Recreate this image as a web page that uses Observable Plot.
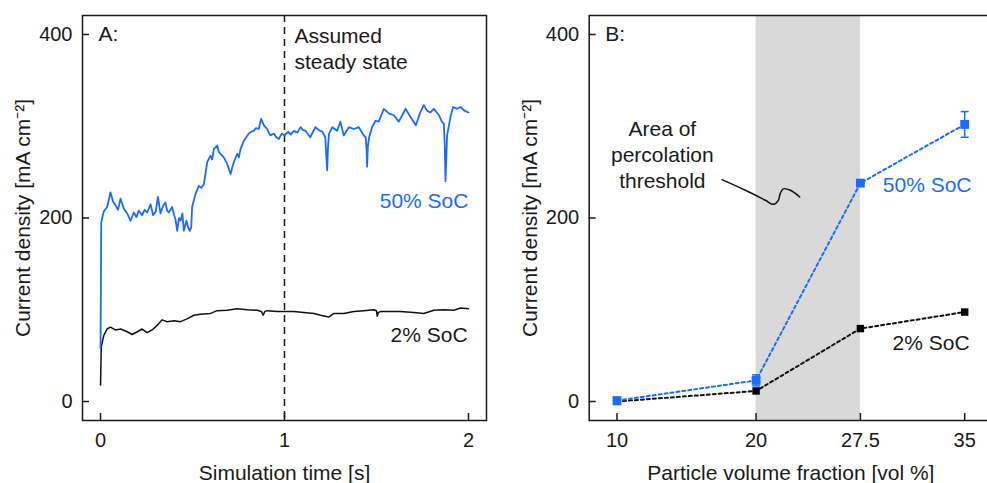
<!DOCTYPE html>
<html>
<head>
<meta charset="utf-8">
<script src="https://cdn.jsdelivr.net/npm/d3@7"></script>
<script src="https://cdn.jsdelivr.net/npm/@observablehq/plot@0.6"></script>
<style>
  html, body { margin: 0; padding: 0; background: #fff; }
  #wrap { position: relative; width: 987px; height: 483px; overflow: hidden; background: #fff; }
  #panelA { position: absolute; left: 0; top: 0; width: 495px; height: 483px; }
  #panelB { position: absolute; left: 490px; top: 0; width: 502px; height: 483px; }
  #wrap svg { max-width: none !important; display: block; }
</style>
</head>
<body>
<div id="wrap"><div id="panelA"></div><div id="panelB"></div></div>
<script>
// ---------- DATA ----------
// Panel A: current density vs simulation time, [time s, current mA cm^-2]
const soc50Trace = [
  [0, 58], [0.004, 195], [0.01, 201], [0.018, 207], [0.036, 212], [0.054, 228], [0.068, 218],
  [0.081, 214], [0.095, 209], [0.109, 221], [0.127, 210], [0.145, 205], [0.163, 197], [0.181, 206],
  [0.195, 201], [0.208, 208], [0.226, 203], [0.24, 209], [0.254, 206], [0.272, 215], [0.286, 203],
  [0.3, 207], [0.312, 223], [0.326, 205], [0.34, 213], [0.353, 217], [0.362, 208], [0.371, 206],
  [0.389, 212], [0.4, 203], [0.407, 199], [0.417, 186], [0.426, 200], [0.435, 197], [0.445, 205],
  [0.453, 186], [0.467, 197], [0.476, 190], [0.485, 186], [0.493, 190], [0.498, 212], [0.516, 226],
  [0.534, 235], [0.548, 233], [0.562, 237], [0.58, 261], [0.598, 268], [0.607, 264], [0.616, 275],
  [0.634, 279], [0.643, 272], [0.652, 270], [0.67, 266], [0.688, 259], [0.707, 248], [0.716, 255],
  [0.725, 261], [0.743, 270], [0.752, 266], [0.761, 275], [0.779, 284], [0.792, 288], [0.806, 292],
  [0.82, 294], [0.833, 295], [0.845, 298], [0.86, 297], [0.873, 308], [0.888, 301], [0.906, 297],
  [0.915, 293], [0.924, 290], [0.942, 292], [0.955, 288], [0.969, 286], [0.985, 292], [1.0, 290],
  [1.02, 294], [1.035, 291], [1.05, 295], [1.07, 293], [1.087, 299], [1.1, 296], [1.114, 295],
  [1.14, 288], [1.155, 294], [1.168, 299], [1.185, 296], [1.205, 294], [1.222, 288], [1.228, 265],
  [1.232, 252], [1.236, 275], [1.242, 292], [1.26, 299], [1.286, 295], [1.304, 305], [1.322, 290],
  [1.35, 299], [1.377, 297], [1.404, 299], [1.431, 290], [1.441, 288], [1.446, 275], [1.449, 256],
  [1.453, 278], [1.46, 288], [1.476, 299], [1.495, 306], [1.512, 305], [1.54, 319], [1.567, 314],
  [1.594, 312], [1.621, 305], [1.64, 312], [1.658, 319], [1.685, 310], [1.714, 301], [1.736, 314],
  [1.757, 323], [1.775, 317], [1.793, 315], [1.812, 319], [1.84, 312], [1.855, 305], [1.866, 303],
  [1.871, 280], [1.875, 240], [1.879, 262], [1.884, 290], [1.902, 310], [1.917, 321], [1.938, 319],
  [1.957, 321], [1.978, 317], [2.0, 315]
];
const soc2Trace = [
  [0, 18], [0.004, 60], [0.018, 72], [0.036, 79], [0.054, 81], [0.08, 78], [0.11, 79], [0.145, 76],
  [0.172, 73], [0.2, 76], [0.226, 79], [0.254, 75], [0.28, 78], [0.308, 83], [0.335, 89], [0.362, 87],
  [0.4, 88], [0.435, 87], [0.47, 90], [0.507, 94], [0.543, 95], [0.598, 96], [0.634, 99], [0.688, 99.5],
  [0.743, 101], [0.797, 100], [0.851, 99.5], [0.875, 98], [0.884, 94], [0.893, 98], [0.906, 99],
  [0.96, 98], [1.0, 98], [1.05, 98], [1.105, 97], [1.16, 96], [1.196, 94], [1.24, 92], [1.268, 96],
  [1.322, 96], [1.377, 98], [1.431, 99], [1.486, 100], [1.5, 99], [1.504, 93], [1.51, 97], [1.522, 98],
  [1.576, 98], [1.63, 98], [1.703, 97], [1.757, 96], [1.812, 99.5], [1.866, 100], [1.92, 99.5],
  [1.957, 102], [2.0, 101]
];
const steadyStateTime = 1;

// Panel B: current density vs particle volume fraction
const volumeFractions = [10, 20, 27.5, 35];
const soc50Current = [1, 23, 238, 302];
const soc50Error = [1, 6, 3, 14];
const soc2Current = [0, 11.5, 79.5, 97.5];
const percolationRange = [20, 27.5];

// Tick labels
const timeTicks = [0, 1, 2];
const currentTicks = [0, 200, 400];
const fractionTicks = [10, 20, 27.5, 35];

// Annotation pointer (data units of panel B)
const pointerPath = [
  [17.55, 241.8], [19.23, 230.2], [20.67, 219.3], [21.24, 214.9], [21.6, 219.3],
  [21.74, 226.9], [21.96, 231.8], [22.47, 230.2], [23.14, 222.9]
];

// ---------- STYLE ----------
const BLUE = "#1a6cff";
const INK = "#1a1a1a";
const FONT = "'Liberation Sans', Arial, Helvetica, sans-serif";
const yLabel = "Current density [mA cm⁻²]";

const H = 483, MT = 15, MB = 63;
const yDomain = [-20.7, 420.7];

// ---------- PANEL A ----------
const aW = 495, aML = 82, aMR = 9;
const aFrameW = aW - aML - aMR, frameH = H - MT - MB;

const plotA = Plot.plot({
  width: aW, height: H, marginLeft: aML, marginRight: aMR, marginTop: MT, marginBottom: MB,
  x: {domain: [-0.098, 2.098]},
  y: {domain: yDomain},
  style: {fontFamily: FONT, fontSize: "20px", color: INK, background: "transparent", overflow: "visible", maxWidth: "none"},
  marks: [
    Plot.axisX(timeTicks, {tickSize: 0, tickPadding: 12, label: null, tickFormat: d => String(d), fill: INK}),
    Plot.axisY(currentTicks, {tickSize: 0, tickPadding: 10, label: null, tickFormat: d => String(d), fill: INK}),
    Plot.tickX(timeTicks, {x: d => d, insetTop: frameH - 7, stroke: INK, strokeWidth: 1.5}),
    Plot.tickY(currentTicks, {y: d => d, insetRight: aFrameW - 7, stroke: INK, strokeWidth: 1.5}),
    Plot.ruleX([steadyStateTime], {stroke: INK, strokeWidth: 1.5, strokeDasharray: "7,5"}),
    Plot.line(soc2Trace, {x: d => d[0], y: d => d[1], stroke: "#111", strokeWidth: 1.5}),
    Plot.line(soc50Trace, {x: d => d[0], y: d => d[1], stroke: BLUE, strokeWidth: 1.8}),
    Plot.frame({stroke: INK, strokeWidth: 1.5}),
    Plot.text(["A:"], {x: -0.011, y: 400, text: d => d, textAnchor: "start", lineAnchor: "middle", fontSize: 21, fill: INK}),
    Plot.text(["Assumed\nsteady state"], {x: 1.054, y: 386, text: d => d, textAnchor: "start", lineAnchor: "middle", lineHeight: 1.25, fontSize: 21, fill: INK}),
    Plot.text(["50% SoC"], {x: 2.0, y: 218, text: d => d, textAnchor: "end", lineAnchor: "middle", fontSize: 21, fill: BLUE}),
    Plot.text(["2% SoC"], {x: 1.995, y: 72, text: d => d, textAnchor: "end", lineAnchor: "middle", fontSize: 21, fill: INK}),
    Plot.text([yLabel], {frameAnchor: "left", dx: -59, rotate: -90, text: d => d, textAnchor: "middle", lineAnchor: "middle", fontSize: 21, fill: INK}),
    Plot.text(["Simulation time [s]"], {frameAnchor: "bottom", dy: 53, text: d => d, textAnchor: "middle", lineAnchor: "middle", fontSize: 21, fill: INK})
  ]
});
document.getElementById("panelA").appendChild(plotA);

// ---------- PANEL B ----------
const bW = 502, bML = 98.7, bMR = 0;
const bFrameW = bW - bML - bMR;
const soc50Rows = volumeFractions.map((x, i) => ({x, y: soc50Current[i], e: soc50Error[i]}));
const soc2Rows = volumeFractions.map((x, i) => ({x, y: soc2Current[i]}));
const capSymbol = {
  draw(context, size) {
    const w = Math.sqrt(size) / 2;
    context.moveTo(-w, 0);
    context.lineTo(w, 0);
  }
};

const plotB = Plot.plot({
  width: bW, height: H, marginLeft: bML, marginRight: bMR, marginTop: MT, marginBottom: MB,
  x: {domain: [8, 37]},
  y: {domain: yDomain},
  style: {fontFamily: FONT, fontSize: "20px", color: INK, background: "transparent", overflow: "visible", maxWidth: "none"},
  marks: [
    Plot.rect([percolationRange], {x1: d => d[0], x2: d => d[1], fill: "#d9d9d9"}),
    Plot.axisX(fractionTicks, {tickSize: 0, tickPadding: 12, label: null, tickFormat: d => String(d), fill: INK}),
    Plot.axisY(currentTicks, {tickSize: 0, tickPadding: 10, label: null, tickFormat: d => String(d), fill: INK}),
    Plot.tickX(fractionTicks, {x: d => d, insetTop: frameH - 7, stroke: INK, strokeWidth: 1.5}),
    Plot.tickY(currentTicks, {y: d => d, insetRight: bFrameW - 7, stroke: INK, strokeWidth: 1.5}),
    Plot.line(soc2Rows, {x: "x", y: "y", stroke: "#111", strokeWidth: 2, strokeDasharray: "3,3"}),
    Plot.line(soc50Rows, {x: "x", y: "y", stroke: BLUE, strokeWidth: 2, strokeDasharray: "3,3"}),
    Plot.ruleX(soc50Rows.filter(d => d.e > 4), {x: "x", y1: d => d.y - d.e, y2: d => d.y + d.e, stroke: BLUE, strokeWidth: 1.5}),
    Plot.dot(soc50Rows.filter(d => d.e > 4), {x: "x", y: d => d.y + d.e, symbol: capSymbol, r: 4.5, stroke: BLUE, strokeWidth: 1.5}),
    Plot.dot(soc50Rows.filter(d => d.e > 4), {x: "x", y: d => d.y - d.e, symbol: capSymbol, r: 4.5, stroke: BLUE, strokeWidth: 1.5}),
    Plot.dot(soc2Rows, {x: "x", y: "y", symbol: "square", r: 4.2, fill: "#000", stroke: null}),
    Plot.dot(soc50Rows, {x: "x", y: "y", symbol: "square", r: 5, fill: BLUE, stroke: null}),
    Plot.line(pointerPath, {x: d => d[0], y: d => d[1], curve: "catmull-rom", stroke: "#111", strokeWidth: 1.5}),
    Plot.frame({stroke: INK, strokeWidth: 1.5}),
    Plot.text(["B:"], {x: 9.16, y: 400, text: d => d, textAnchor: "start", lineAnchor: "middle", fontSize: 21, fill: INK}),
    Plot.text(["Area of\npercolation\nthreshold"], {x: 13.26, y: 270, text: d => d, textAnchor: "middle", lineAnchor: "middle", lineHeight: 1.25, fontSize: 21, fill: INK}),
    Plot.text(["50% SoC"], {x: 35.49, y: 235.6, text: d => d, textAnchor: "end", lineAnchor: "middle", fontSize: 21, fill: BLUE}),
    Plot.text(["2% SoC"], {x: 35.35, y: 63.5, text: d => d, textAnchor: "end", lineAnchor: "middle", fontSize: 21, fill: INK}),
    Plot.text([yLabel], {frameAnchor: "left", dx: -(bML - 40), rotate: -90, text: d => d, textAnchor: "middle", lineAnchor: "middle", fontSize: 21, fill: INK}),
    Plot.text(["Particle volume fraction [vol %]"], {frameAnchor: "bottom", dy: 53, text: d => d, textAnchor: "middle", lineAnchor: "middle", fontSize: 21, fill: INK})
  ]
});
document.getElementById("panelB").appendChild(plotB);
</script>
</body>
</html>
